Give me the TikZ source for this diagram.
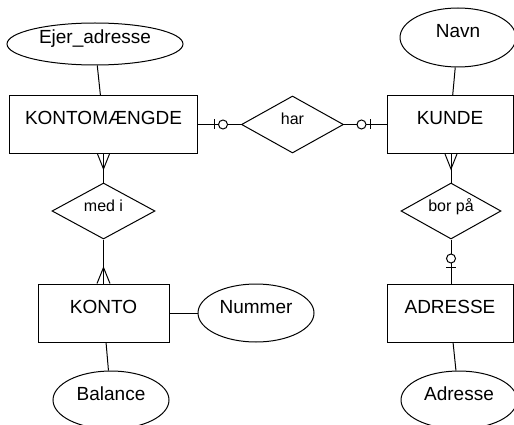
\documentclass[tikz,border=0pt]{standalone}
\usepackage{fontspec}
\setmainfont{Liberation Sans}
\usetikzlibrary{shapes.geometric}
\usetikzlibrary{calc}

\tikzset{
  entity/.style={draw, rectangle, line width=1pt, minimum height=58pt, inner sep=0pt,
    text height=8pt, text depth=8pt, font=\fontsize{19}{22}\selectfont},
  attrib/.style={draw, ellipse, line width=1pt, minimum width=116pt, minimum height=58pt, inner sep=0pt,
    text height=8pt, text depth=8pt, font=\fontsize{19}{22}\selectfont},
  relation/.style={draw, diamond, aspect=2, line width=1pt, minimum width=102pt, minimum height=57pt, inner sep=0pt,
    text height=6pt, text depth=6pt, font=\fontsize{16}{19}\selectfont},
  conn/.style={line width=1pt}
}

\begin{document}
\begin{tikzpicture}[x=1pt,y=1pt,yscale=-1,xscale=1]
\useasboundingbox (0,0) rectangle (514,425);
\clip (0,0) rectangle (514,425);

%Shape: Rectangle (entities)
\node [entity, minimum width=188pt] (km) at (103.5,124.5) {KONTOMÆNGDE};
\node [entity, minimum width=126pt] (kunde) at (450,124.5) {KUNDE};
\node [entity, minimum width=131pt] (konto) at (103.5,313) {KONTO};
\node [entity, minimum width=126pt] (adresse) at (450,313) {ADRESSE};

%Shape: Ellipse (attributes)
\node [attrib, minimum width=176pt, minimum height=42pt] (ejer) at (95,44) {Ejer\_adresse};
\node [attrib, minimum height=59pt] (navn) at (458,37.5) {Navn};
\node [attrib] (nummer) at (256,313) {Nummer};
\node [attrib] (balance) at (111,400) {Balance};
\node [attrib] (adr) at (459,400) {Adresse};

%Shape: Diamond (relations)
\node [relation] (har) at (292.5,124.5) {har};
\node [relation, minimum width=103pt, minimum height=56pt] (medi) at (103.5,211) {med i};
\node [relation, minimum width=100pt, minimum height=56pt] (borpaa) at (451,211) {bor på};

\coordinate (kundebot) at (borpaa.north |- kunde.south);
\coordinate (adrtop) at (borpaa.south |- adresse.north);

%Straight Lines (attributes)
\draw [conn] (ejer) -- (km);
\draw [conn] (navn) -- (kunde);
\draw [conn] (konto) -- (nummer);
\draw [conn] (konto) -- (balance);
\draw [conn] (adresse) -- (adr);

%Straight Lines (relations)
\draw [conn] (km.east) -- (har.west);
\draw [conn] (har.east) -- (kunde.west);
\draw [conn] (km.south) -- (medi.north);
\draw [conn] (medi.south) -- (konto.north);
\draw [conn] (kundebot) -- (borpaa.north);
\draw [conn] (borpaa.south) -- (adrtop);

%Crow's feet (many)
\draw [conn] ($(km.south)+(-6,0)$) -- ($(km.south)+(0,15)$) -- ($(km.south)+(6,0)$);
\draw [conn] ($(konto.north)+(-6.5,0)$) -- ($(konto.north)+(0,-16)$) -- ($(konto.north)+(6.5,0)$);
\draw [conn] ($(kundebot)+(-6,0)$) -- ($(kundebot)+(0,15)$) -- ($(kundebot)+(6,0)$);

%Bar and circle (zero or one)
\draw [conn] ($(km.east)+(16,-5)$) -- ($(km.east)+(16,5)$);
\draw [conn, fill=white] ($(km.east)+(25,0)$) circle (4.5);
\draw [conn] ($(kunde.west)+(-16,-5)$) -- ($(kunde.west)+(-16,5)$);
\draw [conn, fill=white] ($(kunde.west)+(-25,0)$) circle (4.5);
\draw [conn] ($(adrtop)+(-5,-16)$) -- ($(adrtop)+(5,-16)$);
\draw [conn, fill=white] ($(adrtop)+(0,-25)$) circle (4.5);

\end{tikzpicture}
\end{document}
